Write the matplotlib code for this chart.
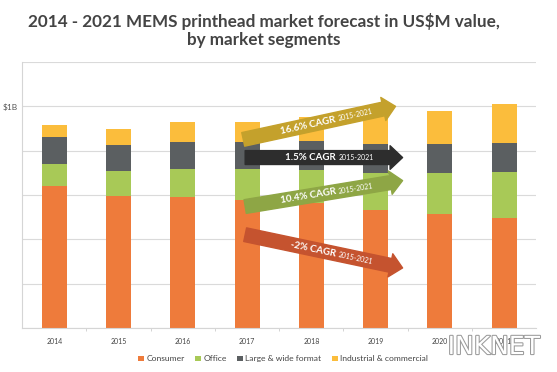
import math
import matplotlib
matplotlib.use("Agg")
import matplotlib.pyplot as plt
import matplotlib.patheffects as pe
from matplotlib.patches import FancyArrowPatch

plt.rcParams['font.family'] = ['Lato', 'DejaVu Sans']

years = ['2014', '2015', '2016', '2017', '2018', '2019', '2020', '2021']
consumer = [639, 594, 590, 576, 564, 534, 516, 496]
office = [102, 113, 126, 140, 151, 166, 184, 207]
large_wide = [120, 120, 121, 122, 128, 128, 131, 132]
industrial = [53, 69, 92, 91, 110, 130, 148, 174]

segments = ['Consumer', 'Office', 'Large & wide format', 'Industrial & commercial']
seg_colors = ['#EE7B3B', '#A8C957', '#5B5F61', '#FBBD3C']

# CAGR arrows: label, colour, (x0, y0) tail, (x1, y1) head in data units
cagr_labels = ['16.6% CAGR', '1.5% CAGR', '10.4% CAGR', '-2% CAGR']
cagr_colors = ['#C4A12C', '#2D2D2D', '#8EA645', '#C5532F']
cagr_tails = [(2.94, 851), (2.97, 769), (2.97, 548), (2.97, 421)]
cagr_heads = [(5.31, 1000), (5.42, 769), (5.42, 665), (5.42, 271)]

fig = plt.figure(figsize=(5.57, 3.72), dpi=100)
ax = fig.add_axes([0.0399, 0.1183, 0.9228, 0.715])

x = list(range(len(years)))
bottom = [0] * len(years)
for vals, name, col in zip([consumer, office, large_wide, industrial], segments, seg_colors):
    ax.bar(x, vals, 0.39, bottom=bottom, color=col, label=name, zorder=2)
    bottom = [b + v for b, v in zip(bottom, vals)]

ax.set_xlim(-0.5, 7.5)
ax.set_ylim(0, 1200)
ax.set_yticks([0, 200, 400, 600, 800, 1000, 1200])
ax.set_yticklabels(['', '', '', '', '', '$1B', ''], fontsize=6, color='#555555')
ax.tick_params(axis='y', length=0, pad=3)
ax.grid(axis='y', color='#DADADA', linewidth=0.8, zorder=0)
ax.set_xticks(x)
ax.set_xticklabels(years, fontsize=5, color='#444444')
ax.set_xticks([i - 0.5 for i in range(1, 8)], minor=True)
ax.tick_params(axis='x', which='major', length=0, pad=7)
ax.tick_params(axis='x', which='minor', length=2, color='#CCCCCC')
for s in ['top', 'right']:
    ax.spines[s].set_visible(False)
ax.spines['left'].set_color('#D5D5D5')
ax.spines['bottom'].set_color('#D5D5D5')

# arrows with rotated labels
for lab, col, t, h in zip(cagr_labels, cagr_colors, cagr_tails, cagr_heads):
    arr = FancyArrowPatch(t, h, arrowstyle='simple,head_width=1.7,head_length=0.9,tail_width=1.0',
                          mutation_scale=10, color=col, zorder=4, shrinkA=0, shrinkB=0)
    ax.add_patch(arr)
    p0 = ax.transData.transform(t)
    p1 = ax.transData.transform(h)
    ang = math.degrees(math.atan2(p1[1] - p0[1], p1[0] - p0[0]))
    xs = 4.42
    frac = (xs - t[0]) / (h[0] - t[0])
    ys = t[1] + frac * (h[1] - t[1])
    ax.text(xs, ys, lab + ' ', rotation=ang, rotation_mode='anchor', ha='right', va='center',
            fontsize=7, fontweight='bold', color='white', zorder=5)
    ax.text(xs, ys, '2015-2021', rotation=ang, rotation_mode='anchor', ha='left', va='center',
            fontsize=5, color='white', zorder=5)

fig.text(0.474, 0.918, '2014 - 2021 MEMS printhead market forecast in US$M value,\nby market segments',
         ha='center', va='center', fontsize=12.3, fontweight='bold', color='#444444', linespacing=1.1)

fig.legend(loc='center', bbox_to_anchor=(0.508, 0.035), ncol=4, frameon=False, fontsize=6.1,
           handlelength=0.7, handleheight=0.7, handletextpad=0.3, columnspacing=1.2,
           labelcolor='#444444')

fig.text(0.887, 0.067, 'INKNET', fontsize=18, color='white', ha='center', va='center',
         family=['Liberation Sans Narrow', 'DejaVu Sans'], zorder=10,
         path_effects=[pe.withStroke(linewidth=1.5, foreground='#9A9A9A')])

fig.savefig('out.png', dpi=100, facecolor='white')
